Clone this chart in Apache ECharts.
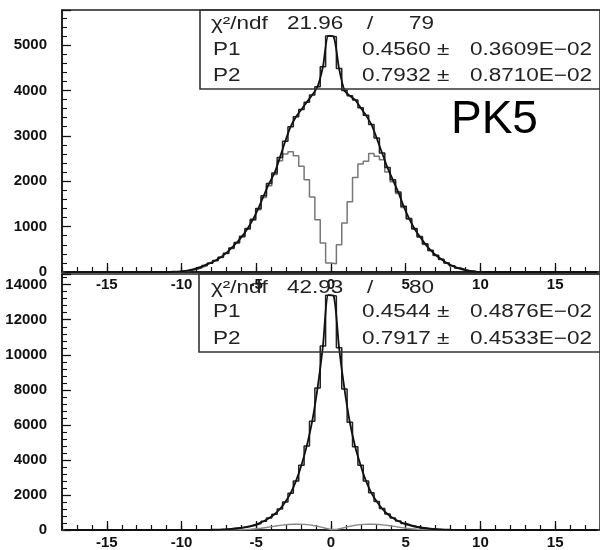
<!DOCTYPE html>
<html><head><meta charset="utf-8">
<script src="https://cdn.jsdelivr.net/npm/echarts@6/dist/echarts.min.js"></script>
<style>html,body{margin:0;padding:0;background:#fff}#c{width:600px;height:550px}</style>
</head><body><div id="c"></div>
<script>
// ---- data ----
const binLow = -18, binHigh = 18, binWidth = 0.36;   // 100 bins
const xTickValues = [-15, -10, -5, 0, 5, 10, 15];
const topYTicks = [0, 1000, 2000, 3000, 4000, 5000];
const botYTicks = [0, 2000, 4000, 6000, 8000, 10000, 12000, 14000];

// upper panel: full distribution (black) and subtracted distribution (grey)
const topData = [0,0,0,0,0,0,0,0,0,0,0,0,0,0,0,0,0,0,0,0,
  5,10,20,38,62,100,145,195,255,325,415,530,650,790,960,1160,1400,1680,1950,2180,
  2520,2880,3200,3420,3580,3740,3900,4080,4520,5200,
  5180,4480,4000,3880,3790,3620,3450,3250,2950,2620,2300,2030,1760,1450,1180,960,780,620,480,370,
  280,200,140,90,50,25,10,4,
  0,0,0,0,0,0,0,0,0,0,0,0,0,0,0,0,0,0,0,0,0,0];
const topSub = [0,0,0,0,0,0,0,0,0,0,0,0,0,0,0,0,0,0,0,0,
  5,10,19,36,60,96,140,190,248,318,405,515,635,770,940,1140,1370,1640,1900,
  2150,2450,2600,2650,2560,2330,2030,1650,1150,640,200,
  180,600,1080,1550,2080,2380,2440,2610,2550,2470,2200,1990,
  1730,1420,1160,940,765,605,470,362,274,196,137,88,49,24,10,4,
  0,0,0,0,0,0,0,0,0,0,0,0,0,0,0,0,0,0,0,0,0,0];
// lower panel
const botData = [0,0,0,0,0,0,0,0,0,0,0,0,0,0,0,0,0,0,0,0,0,0,0,0,0,
  3,6,12,20,32,48,70,100,140,195,270,370,500,680,900,1200,1600,2100,2800,3700,4800,6200,8100,10500,13400,
  13350,10400,8050,6150,4750,3700,2800,2120,1620,1220,910,690,510,375,275,200,142,100,70,48,32,20,12,6,3,
  0,0,0,0,0,0,0,0,0,0,0,0,0,0,0,0,0,0,0,0,0,0,0,0,0];
const botSub = [0,0,0,0,0,0,0,0,0,0,0,0,0,0,0,0,0,0,0,0,0,0,0,0,0,0,0,0,0,0,
  5,10,18,30,45,70,100,140,190,240,280,310,330,330,320,290,240,180,100,30,
  30,100,180,240,290,320,330,330,310,280,240,190,140,100,70,45,30,18,10,5,
  0,0,0,0,0,0,0,0,0,0,0,0,0,0,0,0,0,0,0,0,0,0,0,0,0,0,0,0,0,0];

// fit statistics boxes
const topStats = ['21.96', '79', '0.4560', '0.3609E\u221202', '0.7932', '0.8710E\u221202'];
const botStats = ['42.93', '80', '0.4544', '0.4876E\u221202', '0.7917', '0.4533E\u221202'];
const panelLabel = 'PK5';

// ---- chart ----
function histPoints(vals) {
  const pts = vals.map((v, i) => [binLow + i * binWidth, v]);
  pts.push([binHigh, vals[vals.length - 1]]);
  return pts;
}
function centerPoints(vals) {
  return vals.map((v, i) => [binLow + (i + 0.5) * binWidth, v]);
}
const FONT = '"Liberation Sans", Arial, sans-serif';
const axisLbl = { color: '#111', fontSize: 15, fontWeight: 'bold', fontFamily: FONT };

function xAxesFor(g) {
  return [
    { gridIndex: g, type: 'value', min: binLow, max: binHigh, position: 'bottom',
      axisLine: { show: true, onZero: false, lineStyle: { color: '#111', width: 1.5 } },
      axisTick: { show: true, inside: true, length: 9, customValues: xTickValues, lineStyle: { color: '#111', width: 1.3 } },
      axisLabel: Object.assign({ show: true, margin: 5, customValues: xTickValues }, axisLbl),
      splitLine: { show: false } },
    { gridIndex: g, type: 'value', min: binLow, max: binHigh, interval: 1, position: 'bottom',
      axisLine: { show: false },
      axisTick: { show: true, inside: true, length: 5, lineStyle: { color: '#111', width: 1.2 } },
      axisLabel: { show: false }, splitLine: { show: false } }
  ];
}
function yAxisFor(g, max, interval, ticks) {
  return { gridIndex: g, type: 'value', min: 0, max: max, interval: interval,
    axisLine: { show: true, onZero: false, lineStyle: { color: '#111', width: 1.5 } },
    axisTick: { show: true, inside: true, length: 9, lineStyle: { color: '#111', width: 1.3 } },
    minorTick: { show: true, splitNumber: 5, length: 5, lineStyle: { color: '#111', width: 1.1 } },
    axisLabel: Object.assign({ margin: 15, showMaxLabel: false,
      formatter: v => (ticks.indexOf(v) >= 0 ? String(v) : '') }, axisLbl),
    splitLine: { show: false }, minorSplitLine: { show: false } };
}
function histSeries(vals, xi, yi, color, width, z) {
  return { type: 'line', xAxisIndex: xi, yAxisIndex: yi, data: histPoints(vals), step: 'end',
    symbol: 'none', lineStyle: { color: color, width: width }, z: z, silent: true };
}
function fitSeries(vals, xi, yi) {
  return { type: 'line', xAxisIndex: xi, yAxisIndex: yi, data: centerPoints(vals), smooth: 0.25,
    symbol: 'none', lineStyle: { color: '#111', width: 1.8 }, z: 4, silent: true };
}
function txt(x, y, s) {
  return { type: 'text', x: x, y: y, scaleX: 1.25, z: 100,
    style: { text: s, font: '18px ' + FONT, fill: '#222', align: 'left', verticalAlign: 'middle' } };
}
function statsBox(bx, by, bh, rows, st) {
  return [
    { type: 'rect', z: 99, shape: { x: bx, y: by, width: 430, height: bh },
      style: { fill: 'none', stroke: '#333', lineWidth: 1.6 } },
    txt(211, rows[0], '\u03c7\u00b2/ndf'), txt(287, rows[0], st[0]), txt(367, rows[0], '/'), txt(409, rows[0], st[1]),
    txt(213, rows[1], 'P1'), txt(362, rows[1], st[2] + ' \u00b1'), txt(470, rows[1], st[3]),
    txt(213, rows[2], 'P2'), txt(362, rows[2], st[4] + ' \u00b1'), txt(470, rows[2], st[5])
  ];
}

const chart = echarts.init(document.getElementById('c'), null, { renderer: 'canvas' });
chart.setOption({
  animation: false,
  backgroundColor: '#fff',
  grid: [
    { left: 62, top: 10, right: -12, height: 262, show: true, borderColor: '#222', borderWidth: 1.5, backgroundColor: 'transparent' },
    { left: 62, top: 274, right: -12, height: 263, show: true, borderColor: '#222', borderWidth: 1.5, backgroundColor: 'transparent' }
  ],
  xAxis: xAxesFor(0).concat(xAxesFor(1)),
  yAxis: [yAxisFor(0, 5771, 1000, topYTicks), yAxisFor(1, 14611, 2000, botYTicks)],
  series: [
    histSeries(topSub, 0, 0, '#777', 1.5, 2),
    histSeries(topData, 0, 0, '#222', 1.5, 3),
    fitSeries(topData, 0, 0),
    histSeries(botSub, 2, 1, '#888', 1.4, 2),
    histSeries(botData, 2, 1, '#222', 1.5, 3),
    fitSeries(botData, 2, 1)
  ],
  graphic: [].concat(
    statsBox(200, 10, 79, [24.5, 50, 76], topStats),
    statsBox(199, 274, 78, [288, 312.5, 339.5], botStats),
    [{ type: 'text', x: 451, y: 120, z: 100,
       style: { text: panelLabel, font: '46px ' + FONT, fill: '#000', align: 'left', verticalAlign: 'middle' } }]
  )
});
</script></body></html>
